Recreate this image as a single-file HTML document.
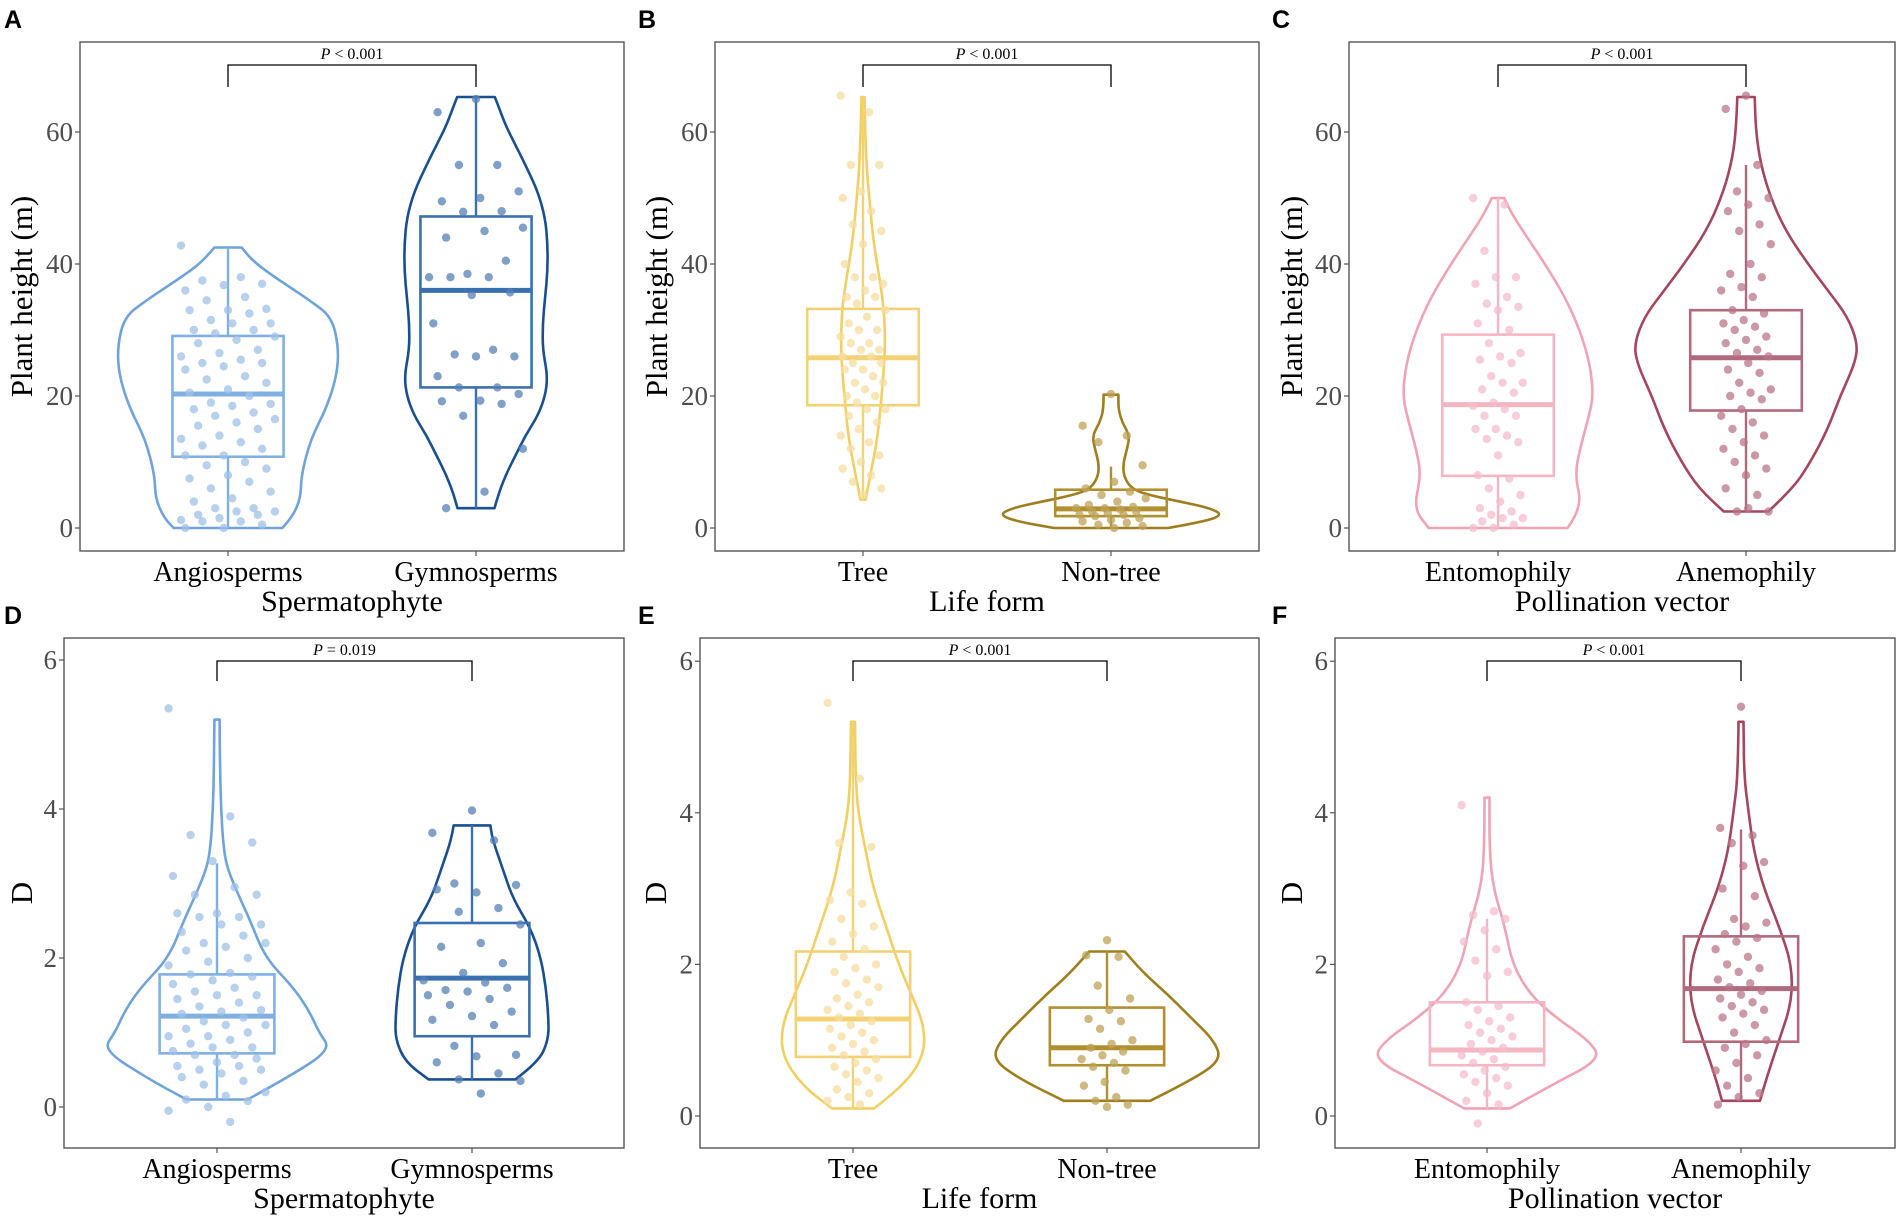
<!DOCTYPE html>
<html><head><meta charset="utf-8">
<style>
html,body{margin:0;padding:0;background:#fff;}
svg{display:block;}
text{font-family:"Liberation Serif",serif;}
.lab{font-family:"Liberation Sans",sans-serif;font-weight:bold;font-size:25px;}
</style></head>
<body>
<svg id="fig" width="1900" height="1219" viewBox="0 0 1900 1219" xmlns="http://www.w3.org/2000/svg"></svg>
<script>
// ---------------- DATA ----------------
const catsSperm = ["Angiosperms","Gymnosperms"];
const catsLife = ["Tree","Non-tree"];
const catsPoll = ["Entomophily","Anemophily"];

// violin shapes: [value, half-width in category units]
const vA1 = [[0,0.22],[1.6,0.26],[4.5,0.294],[8.1,0.297],[13.5,0.335],[18.3,0.40],[23,0.44],[27.3,0.448],[32,0.42],[34.5,0.33],[36.5,0.25],[38.5,0.17],[40.5,0.1],[42.5,0.055]];
const vA2 = [[3,0.075],[5,0.09],[8,0.12],[11,0.16],[14,0.2],[17,0.25],[20,0.28],[23,0.29],[27,0.27],[31,0.27],[35,0.28],[39,0.29],[43,0.29],[47,0.28],[51,0.25],[55,0.2],[58,0.16],[61,0.12],[64,0.09],[65.3,0.076]];
const vB1 = [[4.3,0.01],[8,0.03],[14,0.06],[20,0.075],[27,0.09],[33,0.085],[37,0.07],[44,0.04],[50,0.025],[56,0.012],[65.3,0.006]];
const vB2 = [[0,0.23],[1,0.38],[2,0.45],[3,0.4],[4,0.28],[5,0.15],[6,0.08],[8,0.05],[10,0.05],[12,0.065],[14,0.075],[16,0.045],[18,0.03],[20.2,0.03]];
const vC1 = [[0,0.28],[3,0.34],[8,0.31],[12,0.33],[16,0.36],[20,0.385],[25,0.37],[30,0.33],[35,0.27],[40,0.19],[45,0.1],[48,0.05],[50,0.025]];
const vC2 = [[2.5,0.09],[6,0.19],[10,0.26],[15,0.33],[20,0.38],[25,0.44],[28,0.45],[32,0.41],[36,0.33],[40,0.25],[45,0.16],[50,0.1],[55,0.06],[60,0.04],[65.3,0.035]];
const vD1 = [[0.1,0.12],[0.4,0.28],[0.77,0.447],[1.0,0.4],[1.3,0.36],[1.6,0.3],[2.0,0.19],[2.5,0.13],[2.8,0.09],[3.2,0.04],[3.5,0.025],[4.0,0.016],[4.5,0.012],[5.2,0.01]];
const vD2 = [[0.37,0.17],[0.6,0.26],[0.9,0.3],[1.2,0.3],[1.6,0.29],[2.0,0.27],[2.4,0.23],[2.8,0.16],[3.2,0.12],[3.6,0.08],[3.78,0.072]];
const vE1 = [[0.1,0.083],[0.4,0.2],[0.8,0.28],[1.2,0.28],[1.6,0.23],[2.0,0.18],[2.5,0.13],[3.0,0.08],[3.5,0.05],[4.0,0.02],[4.5,0.01],[5.2,0.008]];
const vE2 = [[0.2,0.17],[0.5,0.35],[0.75,0.45],[1.0,0.42],[1.3,0.33],[1.6,0.24],[1.9,0.14],[2.17,0.07]];
const vF1 = [[0.1,0.09],[0.4,0.25],[0.75,0.45],[1.0,0.4],[1.3,0.27],[1.6,0.17],[2.0,0.1],[2.5,0.07],[3.0,0.025],[3.5,0.01],[4.2,0.01]];
const vF2 = [[0.2,0.075],[0.5,0.1],[1.0,0.15],[1.5,0.2],[2.0,0.2],[2.5,0.15],[3.0,0.09],[3.5,0.05],[4.0,0.03],[4.5,0.012],[5.2,0.01]];

// boxes: [whiskerLow, q1, median, q3, whiskerHigh]
const bA1=[0,10.8,20.3,29.1,42.5], bA2=[3,21.3,36,47.2,65.3];
const bB1=[4.5,18.6,25.8,33.2,65.3], bB2=[0,1.8,2.9,5.8,9.3];
const bC1=[0,7.9,18.7,29.3,50], bC2=[2.5,17.8,25.8,33,55];
const bD1=[0.1,0.72,1.22,1.78,3.27], bD2=[0.37,0.95,1.73,2.47,3.78];
const bE1=[0.1,0.78,1.28,2.17,5.2], bE2=[0.2,0.67,0.9,1.43,2.17];
const bF1=[0.1,0.67,0.87,1.5,2.6], bF2=[0.2,0.98,1.68,2.37,3.78];

// points (values)
const pA1=[42.8,38,37.5,37,36.8,36,35,34.5,33.2,33,33,32.5,31.5,31,31,30,30,29.5,29,28.5,28,27,26.5,26,25.5,25,25,24.5,24,23,22.5,22,21,20.5,20,19,18.8,18.5,18,17.5,17,16.5,16,15.5,15,14,13.5,13,12.5,12,11,11,10,9.5,9,8,7.5,7,6,5.5,4.5,4,3,3,2.5,2.5,2,2,1.5,1.2,1,1,0.5,0,0];
const pA2=[65,63,55,55,51,50,49.5,48,47.9,45.5,45,44,40.5,38.5,38,38,38,35.7,35.3,31,27,26.3,26,26,23,21.3,21.3,20.3,19.3,19.2,18.8,17,12,5.5,3];
const pB1=[65.5,63,55,55,51,50,48,46,45,43,40,38,38,37,36,35,35,34,33,32,31,30,30,29,28,28,27,27,26,26,25,25,24,24,23,22,22,21,20,20,19,18,18,17,16,15,14,13,12,11,10,9,8,7,6,5];
const pB2=[20.3,15.5,14,13,9.5,7,6,5.5,5,4.5,4,3.5,3.2,3,3,2.8,2.5,2.5,2.2,2,2,1.8,1.5,1.2,1,0.8,0.5,0.3,0];
const pC1=[50,49,42,38,38,37,35,34,33.5,33,31,30,28,26.5,26,25.5,25,23,22,22,21,20.5,19,18.5,18,17,17,15,15,14,13.5,13,11,8,7.5,6,5,4,3,2.5,2,1.5,1.5,1,0.5,0,0];
const pC2=[65.5,63.5,55,51,50,49,48,46,45,43,40,38.5,38,36.5,36,35,33,32.5,31.5,31,30.5,30,29,28.5,28,27,26.5,26,25,24,23.5,22,21,20.5,20,19.5,18,17,16,15,14,13,12,11,10,9,8,6,5,2.5,2.5,3];
const pD1=[5.35,3.9,3.65,3.55,3.3,3.1,2.95,2.85,2.85,2.6,2.6,2.55,2.55,2.45,2.45,2.35,2.3,2.2,2.2,2.15,2.1,2.0,1.95,1.9,1.8,1.78,1.75,1.7,1.65,1.6,1.55,1.5,1.5,1.45,1.4,1.35,1.3,1.28,1.25,1.2,1.15,1.1,1.1,1.05,1.0,0.95,0.95,0.9,0.85,0.8,0.8,0.75,0.7,0.7,0.65,0.6,0.55,0.55,0.5,0.5,0.45,0.4,0.35,0.3,0.2,0.15,0.1,0.08,0,-0.05,-0.2];
const pD2=[3.98,3.68,3.58,3.0,2.98,2.88,2.92,2.67,2.62,2.45,2.2,2.15,1.93,1.8,1.7,1.67,1.57,1.6,1.55,1.5,1.45,1.37,1.28,1.22,1.17,1.1,0.82,0.7,0.68,0.6,0.45,0.37,0.35,0.18];
const pE1=[5.45,4.45,3.6,3.55,2.95,2.85,2.8,2.6,2.5,2.4,2.3,2.2,2.1,2.0,1.95,1.9,1.8,1.75,1.7,1.6,1.55,1.5,1.45,1.4,1.35,1.3,1.25,1.2,1.15,1.1,1.05,1.0,0.95,0.9,0.85,0.8,0.75,0.7,0.65,0.6,0.55,0.5,0.45,0.35,0.3,0.25,0.2,0.15];
const pE2=[2.32,2.12,2.1,1.72,1.55,1.4,1.28,1.25,1.15,1.0,0.95,0.9,0.85,0.8,0.75,0.7,0.65,0.6,0.45,0.4,0.25,0.2,0.15,0.12];
const pF1=[4.1,2.7,2.65,2.6,2.45,2.3,2.2,2.05,1.9,1.85,1.5,1.45,1.4,1.3,1.25,1.2,1.15,1.1,1.05,1.0,0.95,0.9,0.85,0.8,0.75,0.7,0.65,0.6,0.55,0.5,0.45,0.4,0.3,0.2,0.15,-0.1];
const pF2=[5.4,3.8,3.7,3.6,3.35,3.3,3.0,2.9,2.6,2.55,2.5,2.4,2.35,2.3,2.2,2.1,2.0,1.95,1.9,1.8,1.75,1.7,1.65,1.6,1.55,1.5,1.45,1.4,1.35,1.3,1.2,1.1,1.0,0.95,0.9,0.8,0.7,0.6,0.5,0.4,0.3,0.25,0.15];

const ticksH=[0,20,40,60], ticksD=[0,2,4,6];
const pvals=["< 0.001","< 0.001","< 0.001","= 0.019","< 0.001","< 0.001"];

// ---------------- DRAW ----------------
const NS="http://www.w3.org/2000/svg";
const svg=document.getElementById('fig');
function mk(tag,attrs,parent){const e=document.createElementNS(NS,tag);for(const k in attrs)e.setAttribute(k,attrs[k]);(parent||svg).appendChild(e);return e;}

const blue1={v:"#6fa3da",b:"#80b0e2",p:"#9fc0e6"}, blue2={v:"#1a4f8f",b:"#3a70b0",p:"#5580b5"};
const yel1={v:"#f2cf62",b:"#f2d274",p:"#f5dea0"}, yel2={v:"#9e7e1e",b:"#b0902e",p:"#bea256"};
const pink1={v:"#f0a3b4",b:"#f5b6c4",p:"#f3bccb"}, pink2={v:"#a3465e",b:"#b06a7d",p:"#b97688"};

const panels=[
 {L:"A",lx:4,ly:28,x0:80,x1:624,y0:42,y1:551,z:528,ppu:6.6,cx:[228,476],cu:247,ticks:ticksH,cats:catsSperm,xt:"Spermatophyte",yt:"Plant height (m)",ytx:22,v:[vA1,vA2],b:[bA1,bA2],p:[pA1,pA2],c:[blue1,blue2],jw:[0.19,0.19],br:65,bl:87},
 {L:"B",lx:638,ly:28,x0:715,x1:1259,y0:42,y1:551,z:528,ppu:6.6,cx:[863,1111],cu:248,ticks:ticksH,cats:catsLife,xt:"Life form",yt:"Plant height (m)",ytx:657,v:[vB1,vB2],b:[bB1,bB2],p:[pB1,pB2],c:[yel1,yel2],jw:[0.09,0.14],br:65,bl:87},
 {L:"C",lx:1272,ly:28,x0:1349,x1:1895,y0:42,y1:551,z:528,ppu:6.6,cx:[1498,1746],cu:248,ticks:ticksH,cats:catsPoll,xt:"Pollination vector",yt:"Plant height (m)",ytx:1292,v:[vC1,vC2],b:[bC1,bC2],p:[pC1,pC2],c:[pink1,pink2],jw:[0.1,0.1],br:65,bl:87},
 {L:"D",lx:4,ly:624,x0:64,x1:624,y0:638,y1:1148,z:1107,ppu:74.5,cx:[217,472],cu:255,ticks:ticksD,cats:catsSperm,xt:"Spermatophyte",yt:"D",ytx:22,v:[vD1,vD2],b:[bD1,bD2],p:[pD1,pD2],c:[blue1,blue2],jw:[0.19,0.19],br:661,bl:681},
 {L:"E",lx:638,ly:624,x0:700,x1:1259,y0:638,y1:1148,z:1116,ppu:75.8,cx:[853,1107],cu:254,ticks:ticksD,cats:catsLife,xt:"Life form",yt:"D",ytx:656,v:[vE1,vE2],b:[bE1,bE2],p:[pE1,pE2],c:[yel1,yel2],jw:[0.1,0.1],br:661,bl:681},
 {L:"F",lx:1272,ly:624,x0:1335,x1:1895,y0:638,y1:1148,z:1116,ppu:75.8,cx:[1487,1741],cu:254,ticks:ticksD,cats:catsPoll,xt:"Pollination vector",yt:"D",ytx:1292,v:[vF1,vF2],b:[bF1,bF2],p:[pF1,pF2],c:[pink1,pink2],jw:[0.1,0.1],br:661,bl:681}
];

function smoothPath(pts){
  let d="M"+pts[0][0].toFixed(1)+","+pts[0][1].toFixed(1);
  for(let i=1;i<pts.length-1;i++){
    const mx=(pts[i][0]+pts[i+1][0])/2,my=(pts[i][1]+pts[i+1][1])/2;
    d+=" Q"+pts[i][0].toFixed(1)+","+pts[i][1].toFixed(1)+" "+mx.toFixed(1)+","+my.toFixed(1);
  }
  const l=pts[pts.length-1];d+=" L"+l[0].toFixed(1)+","+l[1].toFixed(1);return d;
}

panels.forEach((P,pi)=>{
  const g=mk('g',{});
  
  
  const Y=v=>P.z-v*P.ppu;
  const X=(ci,off)=>P.cx[ci]+off*P.cu;
  const lt=mk('text',{x:P.lx,y:P.ly,class:'lab',fill:'#000'},g);lt.textContent=P.L;
  
  
  const fr=mk('rect',{x:P.x0,y:P.y0,width:P.x1-P.x0,height:P.y1-P.y0,fill:'none',stroke:'#555','stroke-width':1.4},g);
  
  
  P.ticks.forEach(t=>{
    mk('line',{x1:P.x0-5,x2:P.x0,y1:Y(t),y2:Y(t),stroke:'#555','stroke-width':1.2},g);
    const tt=mk('text',{x:P.x0-7,y:Y(t)+9,'text-anchor':'end','font-size':27,fill:'#4d4d4d'},g);
    tt.textContent=t;
    
    
  });
  const cy=(P.y0+P.y1)/2;
  const yt=mk('text',{x:P.ytx,y:cy,'text-anchor':'middle','font-size':31,fill:'#000',transform:`rotate(-90 ${P.ytx} ${cy})`,dy:10},g);
  yt.textContent=P.yt;
  
  
  P.cats.forEach((c,ci)=>{
    mk('line',{x1:P.cx[ci],x2:P.cx[ci],y1:P.y1,y2:P.y1+5,stroke:'#555','stroke-width':1.2},g);
    const ct=mk('text',{x:P.cx[ci],y:P.y1+30,'text-anchor':'middle','font-size':28,fill:'#000'},g);
    ct.textContent=c;
    
    
  });
  const xt=mk('text',{x:(P.x0+P.x1)/2,y:P.y1+60,'text-anchor':'middle','font-size':30,fill:'#000'},g);
  xt.textContent=P.xt;
  
  
  [0,1].forEach(ci=>{
    const col=P.c[ci];
    const sh=P.v[ci];
    const right=sh.map(s=>[X(ci,s[1]),Y(s[0])]);
    const left=sh.slice().reverse().map(s=>[X(ci,-s[1]),Y(s[0])]);
    const d=smoothPath(right)+" L"+left[0][0].toFixed(1)+","+left[0][1].toFixed(1)+smoothPath(left).replace(/^M[^ Q]+/,"")+" Z";
    const vp=mk('path',{d:d,fill:'none',stroke:col.v,'stroke-width':2.6,'stroke-linejoin':'round'},g);
    
    
    const b=P.b[ci],hw=0.225;
    const wl=mk('line',{x1:X(ci,0),x2:X(ci,0),y1:Y(b[0]),y2:Y(b[1]),stroke:col.b,'stroke-width':2.4},g);
    
    
    const wh=mk('line',{x1:X(ci,0),x2:X(ci,0),y1:Y(b[3]),y2:Y(b[4]),stroke:col.b,'stroke-width':2.4},g);
    
    
    const br=mk('rect',{x:X(ci,-hw),y:Y(b[3]),width:2*hw*P.cu,height:Y(b[1])-Y(b[3]),fill:'none',stroke:col.b,'stroke-width':2.6},g);
    
    
    const md=mk('line',{x1:X(ci,-hw),x2:X(ci,hw),y1:Y(b[2]),y2:Y(b[2]),stroke:col.b,'stroke-width':5},g);
    
    
    P.p[ci].forEach((v,i)=>{
      const off=(((i*37+ci*11)%23)/22-0.5)*2*P.jw[ci];
      const c=mk('circle',{cx:X(ci,off),cy:Y(v),r:4.2,fill:col.p,'fill-opacity':0.75},g);
      
      
    });
  });
  const bk=mk('path',{d:`M${P.cx[0]},${P.bl} V${P.br} H${P.cx[1]} V${P.bl}`,fill:'none',stroke:'#000','stroke-width':1.3},g);
  
  
  const pt=mk('text',{x:(P.cx[0]+P.cx[1])/2,y:P.br-6,'text-anchor':'middle','font-size':16,fill:'#000'},g);
  
  
  const ts=mk('tspan',{'font-style':'italic'},pt);ts.textContent="P";
  const ts2=mk('tspan',{},pt);ts2.textContent=" "+pvals[pi];
});
</script>
</body></html>
